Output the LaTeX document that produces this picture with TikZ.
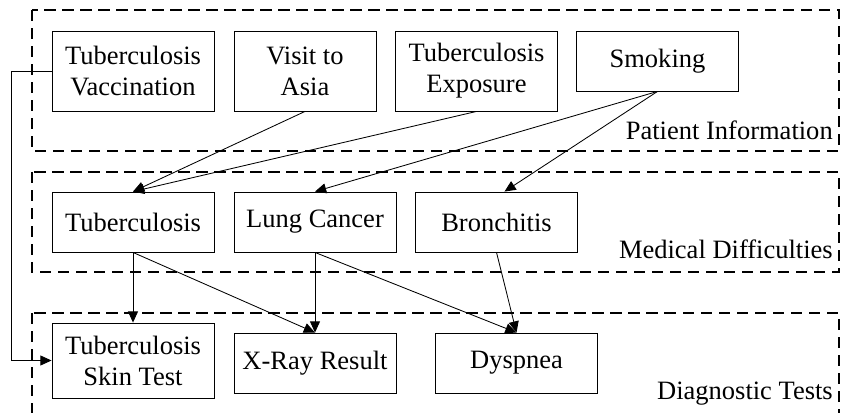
\documentclass[tikz,border=0pt]{standalone}
\usepackage{fontspec}
\setmainfont{Liberation Serif}
\usetikzlibrary{arrows.meta,positioning}

\begin{document}
\begin{tikzpicture}[x=0.025cm, y=-0.025cm, > = {Triangle[length=0.28cm,width=0.25cm]},
    var/.style = {draw, line width=0.6pt, align=center, inner sep=0pt, minimum width=4.05cm, minimum height=2cm, font=\fontsize{18.85}{22}\selectfont},
    short/.style = {var, minimum height=1.5cm},
    group/.style = {draw, line width=0.9pt, dash pattern=on 0.28cm off 0.17cm},
    grouplabel/.style = {anchor=base east, inner sep=0pt, font=\fontsize{18.85}{22}\selectfont},
    link/.style = {->, line width=0.6pt}]

    \useasboundingbox (0,0) rectangle (844,413);

    % groups
    \draw[group] (32,10) rectangle (839,151);
    \draw[group] (32,172) rectangle (839,272);
    \draw[group] (32,313) rectangle (839,440);
    \node[grouplabel] (pinfo) at (833,140) {Patient Information};
    \node[grouplabel] (mdiff) at (833,259) {Medical Difficulties};
    \node[grouplabel] (dtest) at (833,400) {Diagnostic Tests};

    % patient information
    \node[var] (vacc) at (133,71) {Tuberculosis\\Vaccination};
    \node[var, minimum width=3.55cm] (asia) at (305,71) {Visit to\\Asia};
    \node[var] (expo) at (476.5,71) {Tuberculosis\\Exposure};
    \node[short] (smoke) at (657.5,61) {Smoking};

    % medical difficulties
    \node[short] (tb) at (133,222) {Tuberculosis};
    \node[short] (lung) at (315,222) {Lung Cancer};
    \node[short] (bron) at (496.5,222) {Bronchitis};

    % diagnostic tests
    \node[var, minimum height=1.875cm] (skin) at (133,360.5) {Tuberculosis\\Skin Test};
    \node[short] (xray) at (315,363) {X-Ray Result};
    \node[short] (dysp) at (516.5,363) {Dyspnea};

    % links
    \draw[link] (asia.south) -- (tb.north);
    \draw[link] (expo.south) -- (tb.north);
    \draw[link] (smoke.south) -- (lung.north);
    \draw[link] (smoke.south) -- ([xshift=0.2cm]bron.north);
    \draw[link] (tb.south) -- (skin.north);
    \draw[link] (tb.south) -- (xray.north);
    \draw[link] (lung.south) -- (xray.north);
    \draw[link] (lung.south) -- (dysp.north);
    \draw[link] (bron.south) -- (dysp.north);
    \draw[link] (vacc.west) -- ++(-40,0) |- (skin.west);

\end{tikzpicture}
\end{document}
